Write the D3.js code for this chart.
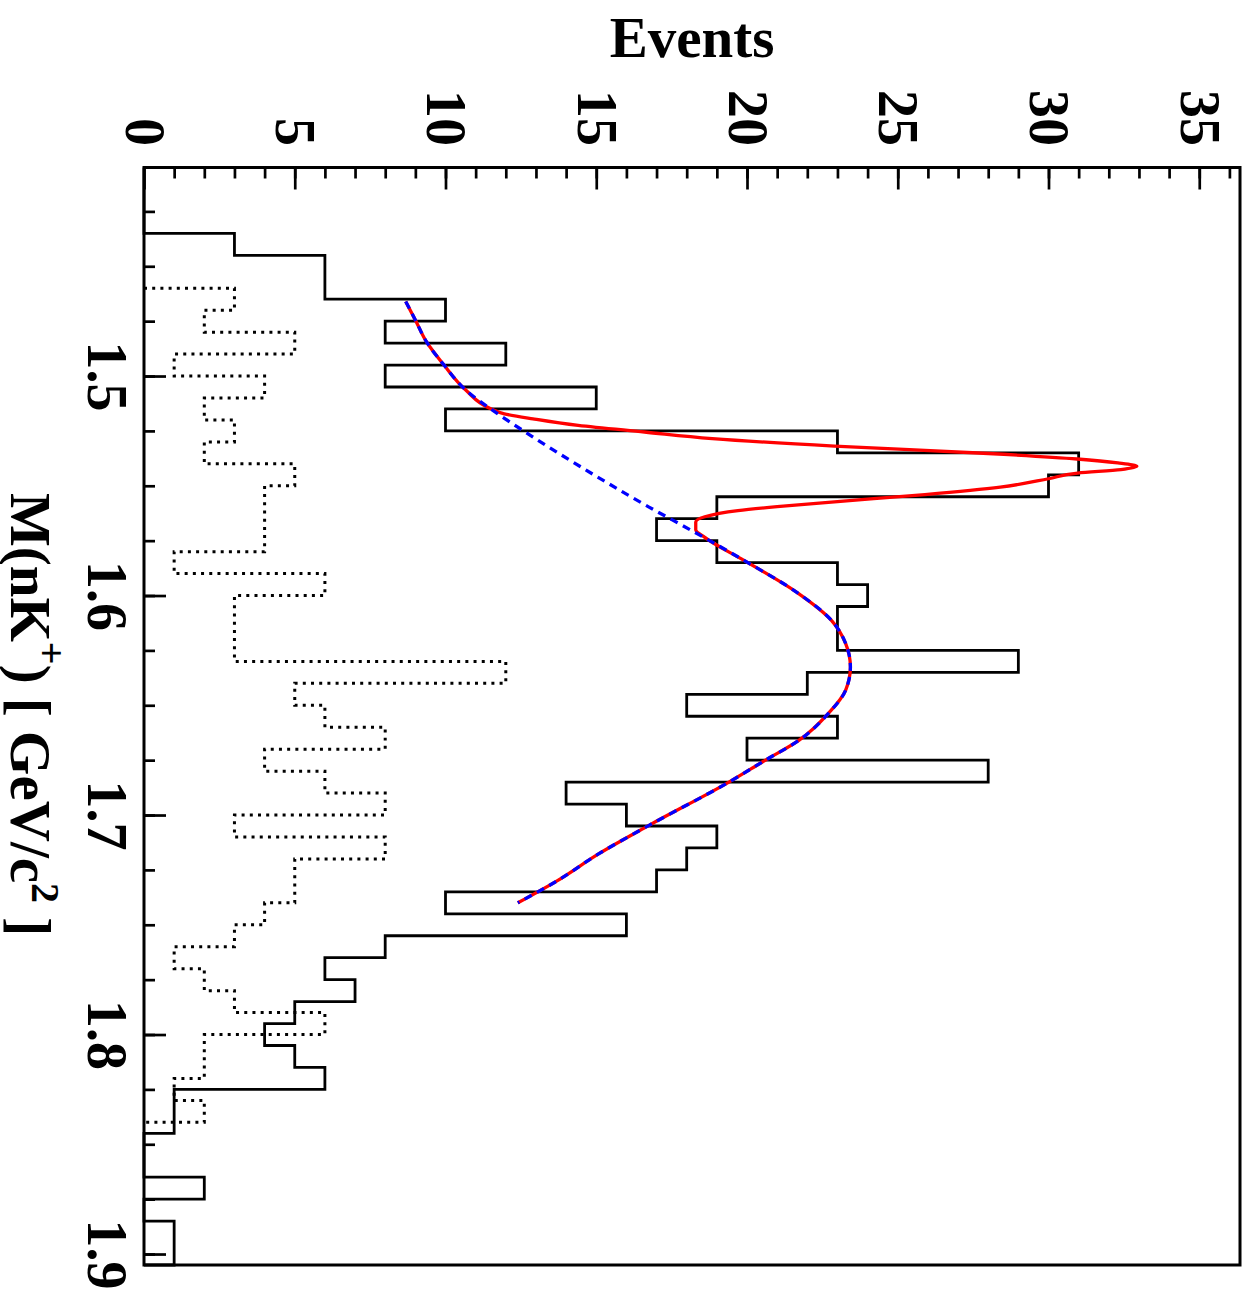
<!DOCTYPE html>
<html><head><meta charset="utf-8">
<script src="https://cdn.jsdelivr.net/npm/d3@7"></script>
<style>html,body{margin:0;padding:0;background:#fff;} svg{display:block;}</style>
</head><body>
<script>
// ---- data ----
const solidBinLow = 1.405;
const binWidth = 0.01;
const solidCounts = [0,0,0,3,6,6,10,8,12,8,15,10,23,31,30,19,17,19,23,24,23,23,29,22,18,23,20,28,14,16,19,18,17,10,16,8,6,7,5,4,5,6,1,1,0,0,2,0,1,1];
const dottedBinLow = 1.46;
const dottedCounts = [3,2,5,1,4,2,3,2,5,4,4,4,1,6,3,3,3,12,5,6,8,4,6,8,3,8,5,5,4,3,1,2,3,6,2,2,1,2];
// fitted background (blue dashed): [mass, events]
const bkgCurve = [[1.466,8.68],[1.475,9.02],[1.484,9.35],[1.495,9.95],[1.5065,10.68],[1.515,11.5],[1.526,12.7],[1.5415,14.5],[1.5597,16.75],[1.5703,18.15],[1.584,19.9],[1.599,21.7],[1.6113,22.8],[1.6218,23.27],[1.6326,23.43],[1.6432,23.27],[1.6537,22.7],[1.666,21.72],[1.6751,20.6],[1.685,19.4],[1.7047,16.75],[1.7176,15.09],[1.730,13.7],[1.740,12.4]];
// total fit (red solid): [mass, events]
const totalCurve = [[1.466,8.68],[1.475,9.02],[1.484,9.35],[1.495,9.95],[1.5065,10.68],[1.5149,11.5],[1.5172,11.95],[1.5195,12.9],[1.5225,14.4],[1.5255,16.6],[1.5285,18.85],[1.5319,22.9],[1.5353,28.0],[1.5378,30.95],[1.5396,32.3],[1.5411,32.93],[1.5426,32.4],[1.5442,30.97],[1.5468,30.0],[1.5506,28.4],[1.554,25.9],[1.5571,23.1],[1.5595,21.0],[1.5613,19.7],[1.5641,18.6],[1.5665,18.3],[1.570,18.3],[1.5735,18.6],[1.584,19.9],[1.599,21.7],[1.6113,22.8],[1.6218,23.27],[1.6326,23.43],[1.6432,23.27],[1.6537,22.7],[1.666,21.72],[1.6751,20.6],[1.685,19.4],[1.7047,16.75],[1.7176,15.09],[1.730,13.7],[1.740,12.4]];
const eventTicks = [0,5,10,15,20,25,30,35];
const eventMinorTicks = d3.range(1,37);
const massTicks = [1.5,1.6,1.7,1.8,1.9];
const massMinorTicks = d3.range(0,20).map(i => +(1.425 + i*0.025).toFixed(3));

// ---- drawing ----
const W = 1250, H = 1299;
const L = 144, R = 1240, T = 167.5, B = 1265;
const FONT = "'Liberation Serif','Times New Roman',serif";
const svg = d3.select("body").append("svg").attr("width", W).attr("height", H);

const x = d3.scaleLinear().domain([0, (R - L) / 30.15]).range([L, R]);
const y = d3.scaleLinear().domain([1.405, 1.905]).range([T, B]);

function histPoints(low, counts) {
  const pts = [[0, low]];
  counts.forEach((c, i) => {
    const lo = low + i * binWidth, hi = low + (i + 1) * binWidth;
    pts.push([c, lo], [c, hi]);
  });
  pts.push([0, low + counts.length * binWidth]);
  return pts;
}
const histLine = d3.line().x(d => x(d[0])).y(d => y(d[1]));

svg.append("path").attr("d", histLine(histPoints(dottedBinLow, dottedCounts)))
  .attr("fill", "none").attr("stroke", "#000").attr("stroke-width", 3)
  .attr("stroke-dasharray", "3,5.2");
svg.append("path").attr("d", histLine(histPoints(solidBinLow, solidCounts)))
  .attr("fill", "none").attr("stroke", "#000").attr("stroke-width", 2.8);

const fitLine = d3.line().x(d => x(d[1])).y(d => y(d[0])).curve(d3.curveMonotoneY);
svg.append("path").attr("d", fitLine(totalCurve))
  .attr("fill", "none").attr("stroke", "#ff0000").attr("stroke-width", 3.3);
svg.append("path").attr("d", fitLine(bkgCurve))
  .attr("fill", "none").attr("stroke", "#0000ff").attr("stroke-width", 3.3)
  .attr("stroke-dasharray", "8,6");

// top axis (events)
const gTopMinor = svg.append("g").attr("transform", `translate(0,${T})`)
  .call(d3.axisTop(x).tickValues(eventMinorTicks).tickSize(-11).tickFormat(""));
const gTop = svg.append("g").attr("transform", `translate(0,${T})`)
  .call(d3.axisTop(x).tickValues(eventTicks).tickSize(-22).tickFormat(d3.format("d")));
// left axis (mass)
const gLeftMinor = svg.append("g").attr("transform", `translate(${L},0)`)
  .call(d3.axisLeft(y).tickValues(massMinorTicks).tickSize(-11).tickFormat(""));
const gLeft = svg.append("g").attr("transform", `translate(${L},0)`)
  .call(d3.axisLeft(y).tickValues(massTicks).tickSize(-22).tickFormat(d3.format(".1f")));

[gTopMinor, gTop, gLeftMinor, gLeft].forEach(g => {
  g.select(".domain").remove();
  g.selectAll(".tick line").attr("stroke", "#000").attr("stroke-width", 2.7);
});
gTop.selectAll(".tick text")
  .attr("x", 0).attr("y", 0).attr("dy", null)
  .attr("text-anchor", "end")
  .attr("transform", `translate(-19,${146 - T}) rotate(90)`)
  .attr("font-family", FONT).attr("font-weight", "bold").attr("font-size", 56).attr("fill", "#000");
gLeft.selectAll(".tick text")
  .attr("x", 0).attr("y", 0).attr("dy", null)
  .attr("text-anchor", "middle")
  .attr("transform", `translate(${88 - L},0) rotate(90)`)
  .attr("font-family", FONT).attr("font-weight", "bold").attr("font-size", 56).attr("fill", "#000");

// frame
svg.append("rect").attr("x", L).attr("y", T).attr("width", R - L).attr("height", B - T)
  .attr("fill", "none").attr("stroke", "#000").attr("stroke-width", 3);

// titles
svg.append("text").attr("x", 692).attr("y", 57).attr("text-anchor", "middle")
  .attr("font-family", FONT).attr("font-weight", "bold").attr("font-size", 57).text("Events");

const xt = svg.append("text").attr("transform", "translate(11,493) rotate(90)")
  .attr("font-family", FONT).attr("font-weight", "bold").attr("font-size", 57);
xt.append("tspan").text("M(nK");
xt.append("tspan").attr("font-size", 40).attr("dy", -27).text("+");
xt.append("tspan").attr("dy", 27).text(") [ GeV/c");
xt.append("tspan").attr("font-size", 40).attr("dy", -21).text("2");
xt.append("tspan").attr("dy", 21).text(" ]");
</script>
</body></html>
